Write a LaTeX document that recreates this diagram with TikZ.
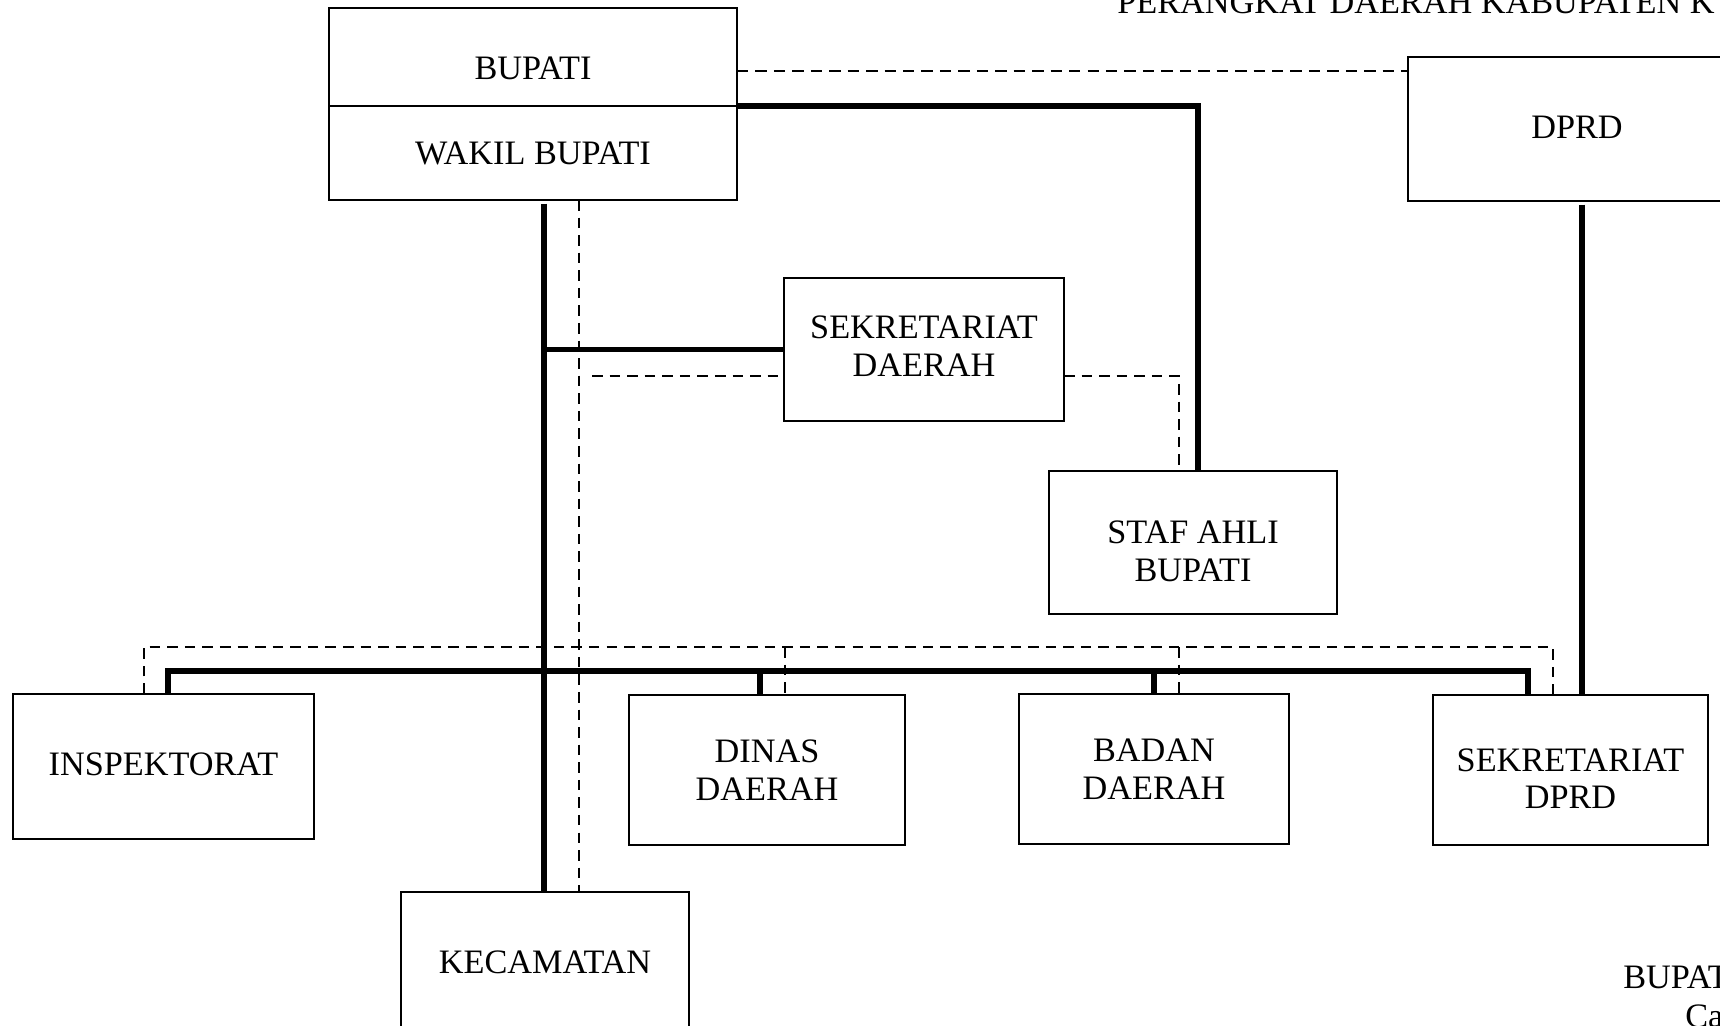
\documentclass[tikz,border=0pt]{standalone}
\usepackage{fontspec}
\setmainfont{Liberation Serif}
\newcommand{\satuan}{0.02cm}
\tikzset{
    every node/.append style={font=\fontsize{19.5}{21.5}\selectfont},
    kotak/.style={draw, line width=1.2pt, inner sep=0pt, outer sep=0pt, align=center},
    teks/.style={inner sep=0pt, anchor=base west},
    tebal/.style={line width=3.1pt},
    putus/.style={line width=0.8pt, dash pattern=on 6pt off 4pt},
    putustebal/.style={line width=1.4pt, dash pattern=on 6.5pt off 4pt},
}

\begin{document}
\begin{tikzpicture}[x=\satuan, y=-\satuan]
  \useasboundingbox (0,0) rectangle (1720,1025);
  \clip (0,0) rectangle (1720,1025);

  % boxes
  \node[kotak, minimum width=408*\satuan, minimum height=98*\satuan, text height=26pt] (bupati) at (533,57) {BUPATI};
  \node[kotak, minimum width=408*\satuan, minimum height=94*\satuan] (wakil) at (533,153) {WAKIL BUPATI};
  \node[kotak, minimum width=338*\satuan, minimum height=144*\satuan, text depth=2.5pt] (dprd) at (1577,129) {DPRD};
  \node[kotak, minimum width=280*\satuan, minimum height=143*\satuan, text depth=3.8pt] (sekda) at (924,349.5) {SEKRETARIAT\\DAERAH};
  \node[kotak, minimum width=288*\satuan, minimum height=143*\satuan, text height=44.6pt] (staf) at (1193,542.5) {STAF AHLI\\BUPATI};
  \node[kotak, minimum width=301*\satuan, minimum height=145*\satuan, text depth=2.5pt] (inspektorat) at (163.5,766.5) {INSPEKTORAT};
  \node[kotak, minimum width=276*\satuan, minimum height=150*\satuan] (dinas) at (767,770) {DINAS\\DAERAH};
  \node[kotak, minimum width=270*\satuan, minimum height=150*\satuan] (badan) at (1154,769) {BADAN\\DAERAH};
  \node[kotak, minimum width=275*\satuan, minimum height=150*\satuan, text height=44.4pt] (sekdprd) at (1570.5,770) {SEKRETARIAT\\DPRD};
  \node[kotak, minimum width=288*\satuan, minimum height=140*\satuan] (kecamatan) at (545,962) {KECAMATAN};

  % texts
  \node[teks] (judul) at (1117,13) {PERANGKAT DAERAH KABUPATEN K};
  \node[teks] (ttd) at (1623,988) {BUPAT};
  \node[teks] (kota) at (1685,1027) {Ca};

  % coordinates
  \coordinate (batang) at (544,0);
  \coordinate (garisputus) at (579,0);
  \coordinate (sudutstaf) at (1198,106);
  \coordinate (garisdprd) at (1582,0);
  \coordinate (dk) at (0,71);
  \coordinate (ds) at (592,376);
  \coordinate (b1) at (168,671);
  \coordinate (b2) at (760,671);
  \coordinate (b3) at (1154,671);
  \coordinate (b4) at (1528,671);
  \coordinate (d1) at (144,647);
  \coordinate (d2) at (785,647);
  \coordinate (d3) at (1179,647);
  \coordinate (d4) at (1553,647);

  % edges
  \draw[tebal, shorten <=2pt] (wakil.south -| batang) -- (kecamatan.north -| batang);
  \draw[tebal] (sekda.west -| batang) -- (sekda.west);
  \draw[tebal] (wakil.north east) -- (sudutstaf) -- (sudutstaf |- staf.north);
  \draw[tebal, shorten <=2pt] (dprd.south -| garisdprd) -- (sekdprd.north -| garisdprd);
  \draw[tebal] (inspektorat.north -| b1) -- (b1) -- (b4) -- (sekdprd.north -| b4);
  \foreach \b/\n in {b2/dinas, b3/badan}
    \draw[tebal] (\b) -- (\n.north -| \b);
  \draw[putustebal] (bupati.east |- dk) -- (dprd.west |- dk);
  \draw[putus] (wakil.south -| garisputus) -- (kecamatan.north -| garisputus);
  \draw[putus] (ds) -- (sekda.west |- ds);
  \draw[putus] (sekda.east |- ds) -- (d3 |- ds) -- (d3 |- staf.north);
  \draw[putus] (inspektorat.north -| d1) -- (d1) -- (d4) -- (sekdprd.north -| d4);
  \foreach \d/\n in {d2/dinas, d3/badan}
    \draw[putus] (\d) -- (\n.north -| \d);
\end{tikzpicture}
\end{document}
